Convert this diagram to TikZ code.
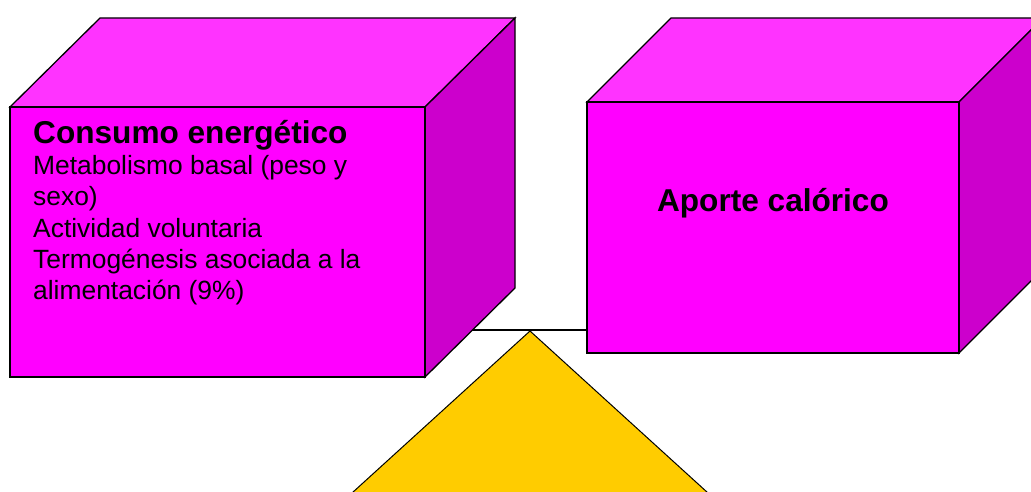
\documentclass[tikz,border=0pt]{standalone}
\usepackage{fontspec}
\setmainfont{Liberation Sans}
\usetikzlibrary{positioning}
\definecolor{cubefront}{HTML}{FF00FF}
\definecolor{cubetop}{HTML}{FF33FF}
\definecolor{cubeside}{HTML}{CC00CC}
\definecolor{fulcrum}{HTML}{FFCC00}
\tikzset{
  edge/.style={draw=black, line width=1.3pt, line join=miter},
  frontface/.style={edge, fill=cubefront},
  topface/.style={edge, fill=cubetop},
  sideface/.style={edge, fill=cubeside},
}

\begin{document}
\begin{tikzpicture}[x=1pt,y=-1pt]
  \useasboundingbox (0,0) rectangle (1031,492);
  \clip (0,0) rectangle (1031,492);
  % fulcrum
  \draw[line width=1pt, fill=fulcrum] (530,331) -- (330,513) -- (730,513) -- cycle;
  % beam
  \coordinate (beamL) at (466,330);
  \coordinate (beamR) at (587,330);
  \draw[line width=1.3pt] (beamL) -- (beamR);
  % left cube
  \draw[topface] (10,107) -- (100,18) -- (515,18) -- (425,107) -- cycle;
  \draw[sideface] (425,107) -- (515,18) -- (515,288) -- (425,377) -- cycle;
  \draw[frontface] (10,107) rectangle (425,377);
  \node[anchor=north west, inner sep=0pt, align=left,
        font=\fontsize{26.4}{31.3}\selectfont] (consumo) at (33,120)
    {{\fontsize{31.6}{31.3}\selectfont\bfseries Consumo energético}\\
     Metabolismo basal (peso y\\sexo)\\Actividad voluntaria\\
     Termogénesis asociada a la\\alimentación (9\%)};
  % right cube
  \draw[topface] (587,102) -- (671,18) -- (1043,18) -- (959,102) -- cycle;
  \draw[sideface] (959,102) -- (1043,18) -- (1043,269) -- (959,353) -- cycle;
  \draw[frontface] (587,102) rectangle (959,353);
  \node[font=\fontsize{31.6}{36}\selectfont\bfseries] (aporte) at (773,203) {Aporte calórico};
\end{tikzpicture}
\end{document}
